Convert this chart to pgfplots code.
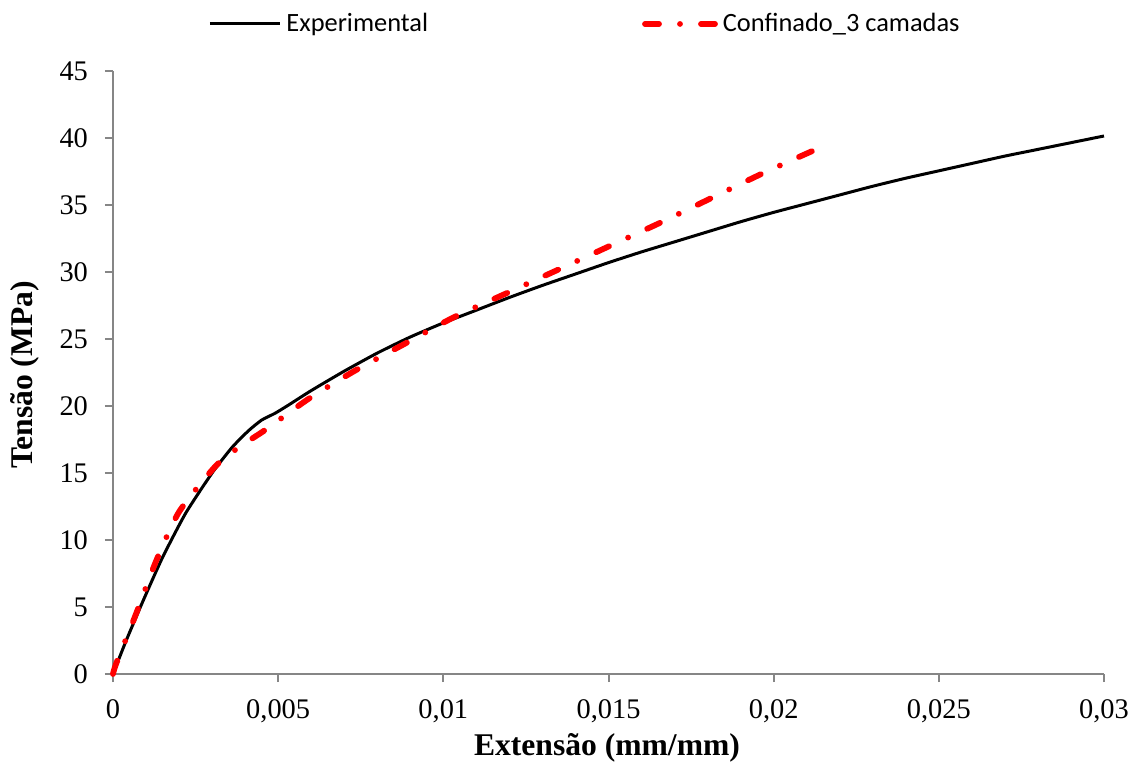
\documentclass[border=0pt]{standalone}
\usepackage{fontspec}
\setmainfont{Liberation Serif}
\newfontfamily\calibri{Carlito}
\usepackage{pgfplots}
\pgfplotsset{compat=1.18}
\definecolor{axisgray}{HTML}{868686}
\begin{document}
\begin{tikzpicture}
\path[use as bounding box] (-56.5pt,-45.5pt) rectangle (510pt,337pt);
\begin{axis}[
  at={(0pt,0pt)}, anchor=south west,
  scale only axis, width=495.5pt, height=301.5pt,
  xmin=0, xmax=0.03, ymin=0, ymax=45,
  axis x line=bottom, axis y line=left,
  axis line style={-, draw=axisgray, line width=1pt},
  tick style={draw=axisgray, line width=1pt},
  tick align=outside, major tick length=4pt,
  scaled x ticks=false, scaled y ticks=false,
  xtick={0,0.005,0.01,0.015,0.02,0.025,0.03},
  xticklabels={0,{0,005},{0,01},{0,015},{0,02},{0,025},{0,03}},
  ytick={0,5,10,15,20,25,30,35,40,45},
  yticklabels={0,5,10,15,20,25,30,35,40,45},
  ticklabel style={font=\fontsize{14.2}{16}\selectfont},
  xticklabel style={yshift=-5.5pt},
  yticklabel style={xshift=-5pt},
  xlabel={\textbf{Extensão (mm/mm)}},
  ylabel={\textbf{Tensão (MPa)}},
  label style={font=\fontsize{15.8}{18}\selectfont},
  xlabel style={at={(axis description cs:0.4985,-0.1227)}, anchor=center},
  ylabel style={at={(axis description cs:-0.0888,0.496)}, anchor=center, rotate=0},
  legend columns=2,
  legend style={at={(axis description cs:0.0959,1.078)}, anchor=west,
    draw=none, fill=none, inner sep=0pt,
    font=\calibri\fontsize{13.2}{15}\selectfont,
    nodes={inner sep=0pt, anchor=west},
    /tikz/every odd column/.append style={column sep=2.5pt},
    /tikz/every even column/.append style={column sep=107pt}},
  legend image code/.code={\draw[#1] (0pt,0pt) -- (35pt,0pt);},
  clip=false,
]
\addplot[black, line width=1.5pt, smooth, tension=0.35] coordinates {
(0,0) (0.0004,2.5) (0.0009,5.4) (0.0015,8.7) (0.0022,12.0) (0.003,15.0)
(0.0036,16.9) (0.0041,18.15) (0.0045,18.95) (0.0049,19.45) (0.0053,20.05)
(0.006,21.15)
(0.007,22.6) (0.008,23.95) (0.009,25.15) (0.010,26.2) (0.011,27.15)
(0.012,28.1) (0.013,29.0) (0.014,29.85) (0.015,30.7) (0.016,31.5)
(0.017,32.25) (0.018,33.0) (0.019,33.75) (0.020,34.45) (0.021,35.1)
(0.022,35.75) (0.023,36.4) (0.024,37.0) (0.025,37.55) (0.026,38.1)
(0.027,38.65) (0.028,39.15) (0.029,39.65) (0.030,40.15)
};
\addlegendentry{Experimental}
\addplot[red, line width=2.9pt, line cap=round, smooth, tension=0.4,
  dash pattern=on 7pt off 10.5pt on 0pt off 10.5pt] coordinates {
(0,0) (0.0001,0.8) (0.0007,4.5) (0.0013,8.4) (0.002,12.1) (0.0031,15.5)
(0.0038,16.9) (0.0046,18.2) (0.0059,20.5) (0.0073,22.6) (0.0088,24.6)
(0.0103,26.6) (0.0119,28.4) (0.0135,30.2) (0.015,31.9) (0.0165,33.6)
(0.0181,35.5) (0.0197,37.4) (0.0216,39.5)
};
\addlegendentry{Confinado\_3 camadas}
\end{axis}
\end{tikzpicture}
\end{document}
